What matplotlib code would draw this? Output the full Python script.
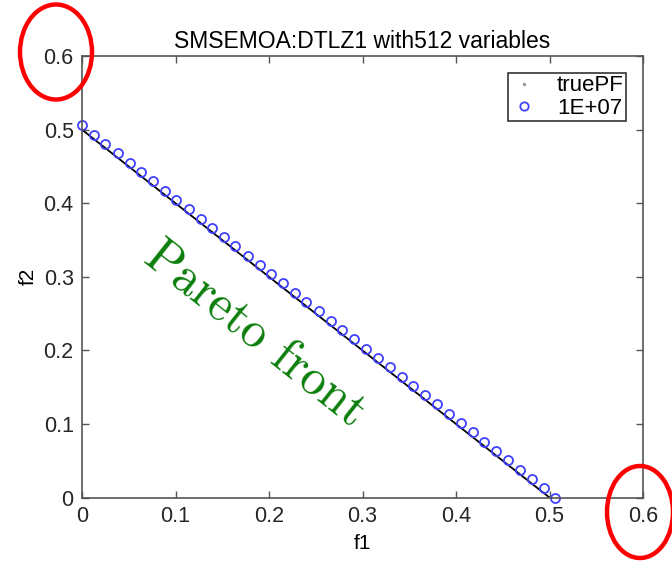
# Pareto front plot for SMSEMOA on DTLZ1
import matplotlib
matplotlib.use("Agg")
import matplotlib.pyplot as plt
from matplotlib.patches import Ellipse
from matplotlib.lines import Line2D

# true Pareto front endpoints
pf_x = [0.0, 0.5]
pf_y = [0.5, 0.0]

# obtained solutions
sol_x = [0.000, 0.013, 0.025, 0.038, 0.051, 0.063, 0.076, 0.089, 0.101, 0.114,
         0.127, 0.139, 0.152, 0.164, 0.177, 0.190, 0.202, 0.215, 0.228, 0.240,
         0.253, 0.266, 0.278, 0.291, 0.304, 0.316, 0.329, 0.342, 0.354, 0.367,
         0.380, 0.392, 0.405, 0.418, 0.430, 0.443, 0.456, 0.468, 0.481, 0.494,
         0.506]
sol_y = [0.506, 0.493, 0.481, 0.468, 0.455, 0.443, 0.430, 0.417, 0.405, 0.392,
         0.379, 0.367, 0.354, 0.342, 0.329, 0.316, 0.304, 0.291, 0.278, 0.266,
         0.253, 0.240, 0.228, 0.215, 0.202, 0.190, 0.177, 0.164, 0.152, 0.139,
         0.127, 0.114, 0.101, 0.089, 0.076, 0.063, 0.051, 0.038, 0.025, 0.013,
         0.000]

ticks = [0, 0.1, 0.2, 0.3, 0.4, 0.5, 0.6]
tick_labels = ["0", "0.1", "0.2", "0.3", "0.4", "0.5", "0.6"]

plt.rcParams['font.family'] = ['Liberation Sans', 'DejaVu Sans']

fig = plt.figure(figsize=(6.72, 5.61), dpi=100)
ax = fig.add_axes([0.122, 0.113, 0.835, 0.787])

ax.plot(pf_x, pf_y, color="black", lw=1.3)
ax.plot(sol_x, sol_y, ls="none", marker="o", markersize=6.5, mfc="none",
        mec=(0.25, 0.25, 1.0), mew=1.3, clip_on=False)

ax.set_xlim(0, 0.6)
ax.set_ylim(0, 0.6)
ax.set_xticks(ticks)
ax.set_xticklabels(tick_labels)
ax.set_yticks(ticks)
ax.set_yticklabels(tick_labels)
ax.tick_params(direction="in", top=True, right=True, length=5, width=1,
               color="#555555", labelsize=15.5, labelcolor="#262626", pad=6)
for s in ax.spines.values():
    s.set_color("#555555")
    s.set_linewidth(1.2)

ax.set_xlabel("f1", fontsize=15, labelpad=5)
ax.set_ylabel("f2", fontsize=15, labelpad=4)
ax.set_title("SMSEMOA:DTLZ1 with512 variables", fontsize=16.5, pad=6)

handles = [Line2D([], [], ls="none", marker=".", markersize=3, color="#999999"),
           Line2D([], [], ls="none", marker="o", markersize=6, mfc="none",
                  mec=(0.25, 0.25, 1.0), mew=1.3)]
leg = ax.legend(handles, ["truePF", "1E+07"], loc="upper right", fontsize=16,
                fancybox=False, edgecolor="#333333", framealpha=1,
                handlelength=1.2, handletextpad=0.9, borderpad=0.12,
                labelspacing=0.05, borderaxespad=0.75)
leg.get_frame().set_linewidth(1.2)

ax.text(0.185, 0.222, "Pareto front", color="#0a7d0a", fontsize=36,
        family="cmr10", rotation=-38.5, rotation_mode="anchor",
        ha="center", va="center")

# red highlight ellipses around the 0.6 labels
fig.patches.append(Ellipse((56 / 672, 1 - 52 / 561), 72 / 672, 95 / 561,
                           transform=fig.transFigure, fill=False,
                           edgecolor="red", lw=3.2))
fig.patches.append(Ellipse((640 / 672, 1 - 512 / 561), 66 / 672, 92 / 561,
                           transform=fig.transFigure, fill=False,
                           edgecolor="red", lw=3.2))

fig.savefig("out.png", dpi=100)
